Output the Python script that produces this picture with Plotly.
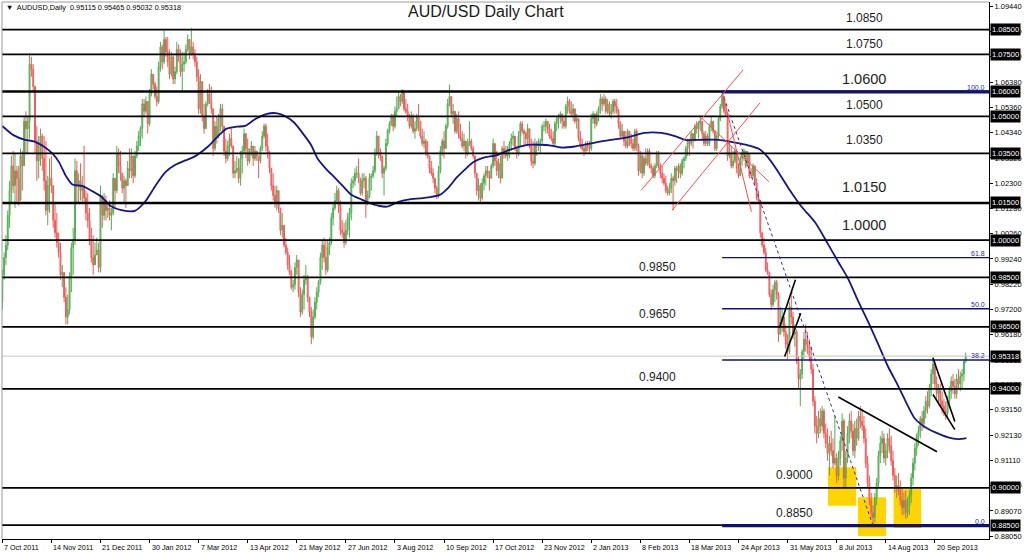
import plotly.graph_objects as go

# ---------------- data ----------------
first_open = 0.975

high = [
 0.988, 0.995, 1.002, 1.012, 1.024, 1.034, 1.036, 1.035, 1.030, 1.030,
 1.037, 1.036, 1.050, 1.052, 1.050, 1.0755, 1.074, 1.071, 1.062, 1.046,
 1.042, 1.045, 1.043, 1.042, 1.040, 1.026, 1.033, 1.034, 1.022, 1.015,
 1.011, 1.003, 0.999, 0.990, 0.986, 0.981, 0.978, 0.987, 0.999, 1.005,
 1.033, 1.032, 1.027, 1.031, 1.026, 1.038, 1.020, 1.019, 1.013, 1.005,
 1.002, 0.999, 1.001, 0.999, 1.022, 1.018, 1.019, 1.018, 1.015, 1.016,
 1.013, 1.027, 1.025, 1.038, 1.037, 1.036, 1.027, 1.026, 1.025, 1.032,
 1.037, 1.037, 1.034, 1.036, 1.040, 1.044, 1.046, 1.057, 1.057, 1.058,
 1.056, 1.061, 1.069, 1.067, 1.064, 1.062, 1.072, 1.080, 1.079, 1.0846,
 1.082, 1.082, 1.077, 1.076, 1.075, 1.070, 1.080, 1.079, 1.077, 1.076,
 1.076, 1.079, 1.083, 1.081, 1.0856, 1.080, 1.077, 1.074,
 1.069, 1.067, 1.064, 1.055, 1.056, 1.061, 1.063, 1.062, 1.053, 1.048,
 1.050, 1.051, 1.055, 1.055, 1.046, 1.041, 1.040, 1.043, 1.045, 1.038,
 1.032, 1.034, 1.033, 1.036, 1.038, 1.045, 1.043, 1.041, 1.037, 1.040,
 1.038, 1.038, 1.036, 1.034, 1.038, 1.044, 1.047, 1.047, 1.043, 1.036,
 1.029, 1.027, 1.022, 1.022, 1.020, 1.013, 1.011, 1.006, 1.001, 0.997,
 0.994, 0.988, 0.984, 0.991, 0.994, 0.992, 0.981, 0.980, 0.986, 0.990,
 0.986, 0.977, 0.973, 0.972, 0.977, 0.981, 0.984, 0.995, 1.000, 1.001,
 1.000, 1.000, 1.001, 1.011, 1.015, 1.019, 1.022, 1.021, 1.016, 1.008,
 1.007, 1.008, 1.011, 1.013, 1.025, 1.026, 1.029, 1.030, 1.033, 1.025,
 1.027, 1.027, 1.026, 1.020, 1.027, 1.027, 1.030, 1.037, 1.044, 1.042,
 1.037, 1.034, 1.030, 1.041, 1.045, 1.048, 1.051, 1.051, 1.054, 1.058,
 1.060, 1.059, 1.061, 1.060, 1.057, 1.055, 1.051, 1.052, 1.051, 1.048,
 1.051, 1.055, 1.048, 1.045, 1.044, 1.041, 1.040, 1.034, 1.032, 1.029,
 1.025, 1.022, 1.030, 1.038, 1.041, 1.044, 1.047, 1.057, 1.0628, 1.058,
 1.055, 1.052, 1.051, 1.052, 1.047, 1.044, 1.043, 1.040, 1.041, 1.048,
 1.041, 1.038, 1.034, 1.027, 1.025, 1.023, 1.025, 1.027, 1.030, 1.030,
 1.028, 1.031, 1.041, 1.039, 1.036, 1.033, 1.034, 1.038, 1.040, 1.038,
 1.038, 1.040, 1.043, 1.044, 1.042, 1.038, 1.044, 1.048, 1.048, 1.045,
 1.044, 1.047, 1.045, 1.041, 1.040, 1.041, 1.040, 1.041, 1.041, 1.047,
 1.048, 1.049, 1.048, 1.047, 1.045, 1.044, 1.048, 1.050, 1.051, 1.052,
 1.051, 1.050, 1.055, 1.058, 1.057, 1.056, 1.055, 1.053, 1.051, 1.049,
 1.044, 1.041, 1.038, 1.040, 1.040, 1.040,
 1.051, 1.052, 1.051, 1.052, 1.054, 1.059, 1.058, 1.059, 1.058, 1.057,
 1.056, 1.055, 1.057, 1.057, 1.057, 1.053, 1.048, 1.047, 1.044, 1.044,
 1.045, 1.044, 1.043, 1.041, 1.045, 1.045, 1.039, 1.036, 1.035, 1.034,
 1.037, 1.037, 1.037, 1.031, 1.030, 1.031, 1.036, 1.036, 1.031, 1.030,
 1.027, 1.026, 1.022, 1.023, 1.027, 1.026, 1.030, 1.030, 1.031, 1.031,
 1.033, 1.034, 1.038, 1.041, 1.041, 1.044, 1.043, 1.047, 1.048, 1.048,
 1.050, 1.048, 1.044, 1.044, 1.043, 1.047, 1.050, 1.048, 1.044, 1.043,
 1.050, 1.055, 1.0598, 1.058, 1.055, 1.051, 1.040, 1.038, 1.036, 1.037,
 1.036, 1.031, 1.034, 1.036, 1.037, 1.036, 1.036, 1.035, 1.029, 1.031,
 1.030, 1.025, 1.020, 1.016, 1.003, 1.001, 0.997, 0.991, 0.987, 0.980,
 0.982, 0.984, 0.984, 0.979, 0.973, 0.972, 0.969, 0.966,
 0.962, 0.975, 0.979, 0.971, 0.966, 0.964, 0.953, 0.948, 0.956, 0.963,
 0.966, 0.963, 0.960, 0.957, 0.950, 0.937, 0.929, 0.931, 0.932, 0.933,
 0.932, 0.926, 0.924, 0.921, 0.923, 0.920, 0.929, 0.914, 0.915, 0.921,
 0.930, 0.928, 0.915, 0.925, 0.930, 0.931, 0.926, 0.927, 0.928, 0.931,
 0.933, 0.932, 0.929, 0.924, 0.913, 0.905, 0.898, 0.893, 0.898, 0.904,
 0.915, 0.921, 0.923, 0.922, 0.918, 0.922, 0.924, 0.921, 0.915, 0.908,
 0.905, 0.906, 0.903, 0.900, 0.898, 0.899, 0.896, 0.899, 0.906, 0.912,
 0.918, 0.922, 0.925, 0.929, 0.931, 0.933, 0.937, 0.939, 0.942, 0.948,
 0.9528, 0.951, 0.945, 0.942, 0.942, 0.939, 0.936, 0.935, 0.937, 0.941,
 0.945, 0.946, 0.944, 0.946, 0.948, 0.947, 0.948, 0.951, 0.95465,
]

low = [
 0.972, 0.984, 0.990, 0.996, 1.005, 1.015, 1.019, 1.013, 1.015, 1.014,
 1.016, 1.020, 1.030, 1.035, 1.035, 1.041, 1.066, 1.060, 1.035, 1.024,
 1.025, 1.030, 1.028, 1.020, 1.010, 1.006, 1.011, 1.019, 1.005, 1.001,
 0.997, 0.993, 0.984, 0.981, 0.975, 0.966, 0.966, 0.970, 0.979, 0.986,
 0.998, 1.015, 1.015, 1.016, 1.015, 1.015, 1.008, 1.005, 0.998, 0.991,
 0.986, 0.990, 0.994, 0.987, 0.987, 1.005, 1.008, 1.008, 1.009, 1.008,
 1.004, 1.010, 1.013, 1.019, 1.027, 1.024, 1.019, 1.015, 1.013, 1.022,
 1.025, 1.025, 1.023, 1.025, 1.033, 1.036, 1.038, 1.041, 1.050, 1.051,
 1.043, 1.046, 1.058, 1.061, 1.057, 1.054, 1.055, 1.068, 1.069, 1.071,
 1.074, 1.070, 1.065, 1.066, 1.063, 1.063, 1.067, 1.072, 1.066, 1.060,
 1.068, 1.071, 1.076, 1.073, 1.0745, 1.073, 1.070, 1.064,
 1.051, 1.051, 1.048, 1.043, 1.045, 1.054, 1.055, 1.051, 1.034, 1.036,
 1.039, 1.041, 1.044, 1.044, 1.034, 1.031, 1.032, 1.034, 1.037, 1.025,
 1.025, 1.027, 1.023, 1.022, 1.027, 1.035, 1.033, 1.030, 1.031, 1.034,
 1.030, 1.032, 1.032, 1.025, 1.031, 1.036, 1.041, 1.036, 1.033, 1.027,
 1.020, 1.016, 1.013, 1.012, 1.011, 1.002, 1.001, 0.997, 0.994, 0.988,
 0.986, 0.980, 0.979, 0.980, 0.986, 0.977, 0.969, 0.970, 0.972, 0.982,
 0.975, 0.969, 0.958, 0.960, 0.968, 0.972, 0.977, 0.982, 0.988, 0.991,
 0.986, 0.987, 0.994, 0.998, 1.006, 1.012, 1.015, 1.011, 1.002, 1.001,
 0.997, 0.998, 1.002, 1.001, 1.008, 1.021, 1.022, 1.025, 1.023, 1.018,
 1.018, 1.021, 1.009, 1.014, 1.017, 1.020, 1.025, 1.027, 1.034, 1.033,
 1.032, 1.025, 1.018, 1.028, 1.038, 1.043, 1.046, 1.044, 1.045, 1.050,
 1.053, 1.054, 1.055, 1.052, 1.051, 1.048, 1.045, 1.045, 1.043, 1.041,
 1.044, 1.044, 1.041, 1.038, 1.037, 1.034, 1.033, 1.027, 1.026, 1.023,
 1.019, 1.0165, 1.017, 1.027, 1.034, 1.033, 1.037, 1.045, 1.054, 1.050,
 1.047, 1.043, 1.043, 1.041, 1.040, 1.037, 1.036, 1.033, 1.034, 1.038,
 1.036, 1.033, 1.025, 1.018, 1.016, 1.015, 1.016, 1.020, 1.022, 1.025,
 1.020, 1.025, 1.029, 1.030, 1.026, 1.025, 1.023, 1.025, 1.033, 1.033,
 1.032, 1.033, 1.036, 1.038, 1.036, 1.033, 1.034, 1.038, 1.043, 1.038,
 1.038, 1.038, 1.037, 1.030, 1.029, 1.030, 1.034, 1.036, 1.035, 1.039,
 1.044, 1.043, 1.043, 1.041, 1.040, 1.038, 1.038, 1.044, 1.045, 1.047,
 1.045, 1.045, 1.045, 1.051, 1.051, 1.050, 1.048, 1.047, 1.045, 1.040,
 1.037, 1.036, 1.034, 1.035, 1.036, 1.035,
 1.036, 1.047, 1.045, 1.046, 1.048, 1.051, 1.052, 1.054, 1.051, 1.051,
 1.050, 1.049, 1.051, 1.051, 1.051, 1.045, 1.041, 1.041, 1.038, 1.037,
 1.037, 1.038, 1.037, 1.036, 1.036, 1.036, 1.026, 1.027, 1.025, 1.026,
 1.030, 1.030, 1.029, 1.027, 1.025, 1.025, 1.029, 1.029, 1.025, 1.023,
 1.022, 1.019, 1.018, 1.018, 1.019, 1.012, 1.022, 1.023, 1.025, 1.025,
 1.026, 1.029, 1.032, 1.034, 1.034, 1.038, 1.037, 1.040, 1.043, 1.041,
 1.044, 1.041, 1.038, 1.038, 1.038, 1.038, 1.044, 1.043, 1.036, 1.036,
 1.041, 1.048, 1.053, 1.051, 1.050, 1.032, 1.033, 1.029, 1.029, 1.031,
 1.027, 1.025, 1.026, 1.030, 1.032, 1.029, 1.030, 1.025, 1.025, 1.025,
 1.022, 1.016, 1.015, 1.001, 0.997, 0.994, 0.987, 0.986, 0.977, 0.972,
 0.973, 0.975, 0.976, 0.959, 0.962, 0.963, 0.961, 0.956,
 0.952, 0.954, 0.966, 0.960, 0.957, 0.950, 0.940, 0.933, 0.944, 0.952,
 0.955, 0.954, 0.951, 0.946, 0.933, 0.922, 0.918, 0.920, 0.922, 0.923,
 0.920, 0.916, 0.911, 0.905, 0.913, 0.908, 0.909, 0.902, 0.903, 0.909,
 0.915, 0.900, 0.900, 0.910, 0.918, 0.920, 0.913, 0.912, 0.917, 0.919,
 0.924, 0.923, 0.918, 0.908, 0.900, 0.893, 0.888, 0.8848, 0.886, 0.893,
 0.900, 0.910, 0.914, 0.910, 0.909, 0.912, 0.914, 0.909, 0.903, 0.898,
 0.896, 0.897, 0.893, 0.889, 0.889, 0.8875, 0.888, 0.889, 0.894, 0.901,
 0.907, 0.913, 0.917, 0.920, 0.923, 0.924, 0.928, 0.930, 0.932, 0.937,
 0.942, 0.940, 0.936, 0.934, 0.933, 0.930, 0.929, 0.9275, 0.928, 0.932,
 0.936, 0.938, 0.936, 0.936, 0.940, 0.939, 0.940, 0.943, 0.95032,
]

close = [
 0.986, 0.993, 0.998, 1.010, 1.020, 1.030, 1.022, 1.028, 1.025, 1.016,
 1.034, 1.030, 1.048, 1.045, 1.048, 1.071, 1.069, 1.062, 1.040, 1.032,
 1.038, 1.042, 1.033, 1.024, 1.012, 1.022, 1.025, 1.022, 1.008, 1.003,
 0.999, 0.995, 0.986, 0.987, 0.977, 0.969, 0.972, 0.985, 0.997, 1.000,
 1.028, 1.022, 1.024, 1.020, 1.022, 1.017, 1.011, 1.008, 1.000, 0.993,
 0.990, 0.994, 0.996, 0.989, 1.018, 1.010, 1.016, 1.012, 1.013, 1.010,
 1.011, 1.025, 1.020, 1.035, 1.030, 1.027, 1.021, 1.024, 1.022, 1.029,
 1.028, 1.034, 1.026, 1.034, 1.038, 1.042, 1.045, 1.055, 1.052, 1.056,
 1.047, 1.059, 1.067, 1.063, 1.058, 1.056, 1.070, 1.078, 1.072, 1.081,
 1.076, 1.072, 1.067, 1.074, 1.065, 1.068, 1.077, 1.074, 1.068, 1.071,
 1.072, 1.077, 1.081, 1.075, 1.078, 1.075, 1.072, 1.066,
 1.053, 1.064, 1.050, 1.045, 1.055, 1.059, 1.056, 1.053, 1.037, 1.046,
 1.042, 1.049, 1.053, 1.046, 1.036, 1.033, 1.038, 1.041, 1.038, 1.027,
 1.028, 1.029, 1.025, 1.033, 1.036, 1.043, 1.037, 1.032, 1.035, 1.038,
 1.033, 1.036, 1.034, 1.032, 1.037, 1.042, 1.046, 1.038, 1.035, 1.029,
 1.022, 1.018, 1.015, 1.020, 1.013, 1.004, 1.006, 0.998, 0.995, 0.990,
 0.987, 0.981, 0.982, 0.989, 0.992, 0.979, 0.971, 0.978, 0.984, 0.985,
 0.977, 0.971, 0.961, 0.969, 0.975, 0.979, 0.983, 0.993, 0.998, 0.993,
 0.988, 0.997, 0.999, 1.009, 1.013, 1.016, 1.020, 1.014, 1.004, 1.003,
 0.999, 1.004, 1.009, 1.011, 1.023, 1.024, 1.027, 1.027, 1.025, 1.019,
 1.024, 1.025, 1.016, 1.018, 1.025, 1.026, 1.028, 1.035, 1.042, 1.036,
 1.034, 1.027, 1.029, 1.039, 1.044, 1.047, 1.050, 1.046, 1.052, 1.053,
 1.058, 1.056, 1.060, 1.053, 1.052, 1.050, 1.046, 1.050, 1.044, 1.045,
 1.050, 1.048, 1.042, 1.039, 1.040, 1.035, 1.034, 1.029, 1.027, 1.025,
 1.021, 1.018, 1.028, 1.036, 1.040, 1.037, 1.046, 1.055, 1.058, 1.051,
 1.052, 1.044, 1.049, 1.043, 1.041, 1.038, 1.040, 1.035, 1.039, 1.040,
 1.037, 1.034, 1.027, 1.020, 1.022, 1.017, 1.023, 1.026, 1.028, 1.027,
 1.025, 1.030, 1.039, 1.032, 1.028, 1.031, 1.025, 1.037, 1.036, 1.034,
 1.037, 1.039, 1.041, 1.042, 1.037, 1.035, 1.042, 1.047, 1.044, 1.043,
 1.041, 1.045, 1.038, 1.032, 1.031, 1.039, 1.038, 1.040, 1.040, 1.046,
 1.046, 1.048, 1.045, 1.042, 1.041, 1.039, 1.047, 1.049, 1.050, 1.051,
 1.048, 1.046, 1.054, 1.056, 1.052, 1.051, 1.053, 1.048, 1.049, 1.041,
 1.038, 1.037, 1.036, 1.039, 1.038, 1.037,
 1.049, 1.051, 1.047, 1.051, 1.053, 1.057, 1.055, 1.057, 1.052, 1.055,
 1.051, 1.052, 1.056, 1.054, 1.052, 1.047, 1.042, 1.044, 1.040, 1.038,
 1.044, 1.041, 1.039, 1.037, 1.044, 1.038, 1.028, 1.034, 1.027, 1.033,
 1.031, 1.036, 1.030, 1.029, 1.026, 1.030, 1.035, 1.030, 1.027, 1.025,
 1.023, 1.020, 1.019, 1.021, 1.025, 1.024, 1.029, 1.028, 1.030, 1.027,
 1.032, 1.033, 1.037, 1.040, 1.039, 1.043, 1.040, 1.046, 1.045, 1.047,
 1.048, 1.043, 1.039, 1.042, 1.039, 1.046, 1.048, 1.044, 1.037, 1.042,
 1.049, 1.054, 1.058, 1.052, 1.051, 1.034, 1.035, 1.030, 1.032, 1.036,
 1.029, 1.026, 1.033, 1.035, 1.036, 1.030, 1.035, 1.026, 1.026, 1.030,
 1.023, 1.017, 1.016, 1.003, 0.998, 0.995, 0.988, 0.987, 0.978, 0.974,
 0.980, 0.983, 0.978, 0.962, 0.967, 0.969, 0.963, 0.958,
 0.955, 0.973, 0.969, 0.962, 0.963, 0.951, 0.944, 0.946, 0.955, 0.960,
 0.958, 0.957, 0.953, 0.948, 0.935, 0.925, 0.922, 0.928, 0.925, 0.931,
 0.922, 0.918, 0.914, 0.918, 0.915, 0.910, 0.912, 0.905, 0.912, 0.919,
 0.927, 0.904, 0.912, 0.922, 0.927, 0.923, 0.915, 0.924, 0.920, 0.929,
 0.927, 0.925, 0.920, 0.910, 0.902, 0.895, 0.890, 0.888, 0.896, 0.902,
 0.913, 0.918, 0.920, 0.912, 0.915, 0.920, 0.917, 0.911, 0.905, 0.900,
 0.901, 0.899, 0.895, 0.892, 0.895, 0.890, 0.893, 0.897, 0.904, 0.910,
 0.916, 0.921, 0.923, 0.928, 0.926, 0.931, 0.935, 0.933, 0.940, 0.946,
 0.950, 0.942, 0.938, 0.940, 0.935, 0.933, 0.931, 0.930, 0.935, 0.939,
 0.943, 0.941, 0.938, 0.944, 0.942, 0.945, 0.946, 0.95115, 0.95318,
]

# bottom date labels (one every 27 bars)
date_labels = ["7 Oct 2011", "14 Nov 2011", "21 Dec 2011", "30 Jan 2012", "7 Mar 2012",
               "13 Apr 2012", "21 May 2012", "27 Jun 2012", "3 Aug 2012", "10 Sep 2012",
               "17 Oct 2012", "23 Nov 2012", "2 Jan 2013", "8 Feb 2013", "18 Mar 2013",
               "24 Apr 2013", "31 May 2013", "8 Jul 2013", "14 Aug 2013", "20 Sep 2013"]
label_step = 27

# moving average (bar index, value)
ma_idx = [0, 6.1, 12.6, 17.3, 22.8, 27.5, 31.2, 34.9, 38.6, 44.2, 49.7, 54.4, 59.9, 65.5, 72.9,
          78.5, 84.1, 89.6, 95.2, 100.7, 105.4, 113.2, 118.7, 123.4, 129.0, 133.6, 139.2, 145.6,
          151.3, 155.9, 160.5, 165.1, 169.8, 173.5, 178.1, 182.8, 187.4, 192.0, 196.7, 202.2,
          206.9, 211.5, 218.4, 224.0, 231.4, 240.7, 245.3, 250.0, 255.5, 259.2, 264.8, 272.2,
          277.7, 283.3, 288.9, 296.3, 301.9, 307.4, 314.9, 319.9, 327.3, 334.7, 344.0, 353.3,
          362.6, 370.0, 375.6, 383.0, 394.1, 401.5, 410.8, 416.4, 421.0, 425.7, 432.4, 439.7,
          447.1, 454.4, 459.9, 465.4, 470.9, 476.4, 481.9, 487.3, 492.8, 498.3, 502.0, 507.5,
          513.0, 520.3, 525.8, 530.4]
ma_val = [1.0461, 1.0424, 1.0405, 1.0399, 1.0378, 1.0350, 1.0315, 1.0260, 1.0225, 1.0218, 1.0197,
          1.0176, 1.0137, 1.0121, 1.0118, 1.0155, 1.0218, 1.0274, 1.0304, 1.0322, 1.0336,
          1.0378, 1.0420, 1.0450, 1.0458, 1.0461, 1.0489, 1.0510, 1.0512, 1.0499, 1.0475,
          1.0433, 1.0385, 1.0329, 1.0288, 1.0253, 1.0218, 1.0183, 1.0167, 1.0149, 1.0139, 1.0135,
          1.0156, 1.0165, 1.0170, 1.0183, 1.0211, 1.0253, 1.0292, 1.0315, 1.0333, 1.0343,
          1.0361, 1.0374, 1.0385, 1.0385, 1.0382, 1.0374, 1.0378,
          1.0385, 1.0396, 1.0405, 1.0415, 1.0433, 1.0433, 1.0420, 1.0405, 1.0405, 1.0405,
          1.0396, 1.0382, 1.0368, 1.0336, 1.0288,
          1.0211, 1.0135, 1.0072, 0.9982, 0.9912, 0.9843, 0.9753, 0.9669, 0.9579, 0.9489,
          0.9412, 0.9329, 0.9280, 0.9246, 0.9225, 0.9204, 0.9197, 0.9201]

levels = [1.0850, 1.0750, 1.0600, 1.0500, 1.0350, 1.0150, 1.0000, 0.9850, 0.9650, 0.9400, 0.9000, 0.8850]
last_price = 0.95318
header_ohlc = ["0.95115", "0.95465", "0.95032", "0.95318"]
axis_ticks = [1.0944, 1.0842, 1.0740, 1.0638, 1.0536, 1.0434, 1.0332, 1.0230, 1.0128, 1.0026,
              0.9924, 0.9822, 0.9720, 0.9618, 0.9516, 0.9417, 0.9315, 0.9213, 0.9111, 0.9009,
              0.8907, 0.8805]

fib_hi_idx = 396
fib_lo_idx = 479
fib_ratios = [1.0, 0.618, 0.5, 0.382, 0.0]

# hand-drawn analysis objects (bar index, price)
red_lines = [((351.4, 1.0201), (407.5, 1.0687)), ((368.5, 1.0121), (416.9, 1.0555)),
             ((396.5, 1.0586), (412.1, 1.0115)), ((384.8, 1.0492), (421.9, 1.0235))]
black_lines = [((427.5, 0.9645), (436.3, 0.9840)), ((430.4, 0.9530), (439.2, 0.9705)),
               ((459.9, 0.9367), (514.2, 0.9146)), ((512.0, 0.9524), (524.0, 0.9268)),
               ((512.0, 0.9377), (524.0, 0.9235))]
support_boxes = [((454.2, 469.8), (0.8928, 0.9083)), ((470.7, 486.2), (0.8806, 0.8962)),
                 ((490.3, 505.5), (0.8838, 0.8995))]

# ---------------- build ----------------
N = min(len(high), len(low), len(close))
close = close[:N]
opens = [first_open] + close[:-1]
highs = [max(h, o, c) for h, o, c in zip(high[:N], opens, close)]
lows = [min(l, o, c) for l, o, c in zip(low[:N], opens, close)]
xs = list(range(N))

X_RANGE = [-0.165, 542.8]
Y_RANGE = [0.87937, 1.09613]
FONT = "Liberation Sans, Arial, sans-serif"

fig = go.Figure()
fig.add_trace(go.Candlestick(
    x=xs, open=opens, high=highs, low=lows, close=close,
    increasing=dict(line=dict(color="#4FAE4F", width=1), fillcolor="#A5D9A5"),
    decreasing=dict(line=dict(color="#F05858", width=1), fillcolor="#F6A6A6"),
    whiskerwidth=0, showlegend=False, hoverinfo="skip"))
fig.add_trace(go.Scatter(x=ma_idx, y=ma_val, mode="lines",
                         line=dict(color="#15158A", width=1.8, shape="spline", smoothing=0.7),
                         showlegend=False, hoverinfo="skip"))

shapes = []
for (x0, x1), (y0, y1) in support_boxes:
    shapes.append(dict(type="rect", xref="x", yref="y", x0=x0, x1=x1, y0=y0, y1=y1,
                       fillcolor="#FFD400", line=dict(width=0), layer="below"))
for lv in levels:
    w = 2.6 if lv in (1.0600, 1.0150) else 1.8
    shapes.append(dict(type="line", xref="paper", yref="y", x0=0, x1=1, y0=lv, y1=lv,
                       line=dict(color="#000000", width=w)))
shapes.append(dict(type="line", xref="paper", yref="y", x0=0, x1=1, y0=last_price, y1=last_price,
                   line=dict(color="#C4C4C4", width=1)))

fib_hi = highs[fib_hi_idx]
fib_lo = lows[fib_lo_idx]
fib_vals = [fib_lo + r * (fib_hi - fib_lo) for r in fib_ratios]
for r, fv in zip(fib_ratios, fib_vals):
    w = 3.2 if r in (1.0, 0.0) else 1.4
    shapes.append(dict(type="line", xref="x", yref="y", x0=fib_hi_idx, x1=X_RANGE[1], y0=fv, y1=fv,
                       line=dict(color="#101078", width=w)))
shapes.append(dict(type="line", xref="x", yref="y", x0=fib_hi_idx, y0=fib_hi, x1=fib_lo_idx, y1=fib_lo,
                   line=dict(color="#2A2AA0", width=1, dash="dot")))
for (x0, y0), (x1, y1) in red_lines:
    shapes.append(dict(type="line", xref="x", yref="y", x0=x0, y0=y0, x1=x1, y1=y1,
                       line=dict(color="#FF4A4A", width=1)))
for (x0, y0), (x1, y1) in black_lines:
    shapes.append(dict(type="line", xref="x", yref="y", x0=x0, y0=y0, x1=x1, y1=y1,
                       line=dict(color="#000000", width=1.6)))
# frame (left / top)
shapes.append(dict(type="line", xref="paper", yref="paper", x0=0, x1=0, y0=0, y1=1,
                   line=dict(color="#9A9A9A", width=1)))
shapes.append(dict(type="line", xref="paper", yref="paper", x0=0, x1=1, y0=1, y1=1,
                   line=dict(color="#9A9A9A", width=1)))

ann = []
# in-chart level labels: level -> (x pixel centre, y shift above line, font size)
label_style = {
    1.0850: (866, 12, 12), 1.0750: (866, 10, 12), 1.0600: (866, 13, 14.5),
    1.0500: (866, 11, 12), 1.0350: (866, 13, 12), 1.0150: (866, 16, 14.5),
    1.0000: (866, 15, 14.5), 0.9850: (659, 10, 12), 0.9650: (659, 13, 12),
    0.9400: (659, 12, 12), 0.9000: (796, 13, 12), 0.8850: (796, 12.5, 12),
}
PLOT_L, PLOT_W = 2, 989
for lv in levels:
    px, dy, sz = label_style[lv]
    ann.append(dict(xref="paper", yref="y", x=(px - PLOT_L) / PLOT_W, y=lv, yshift=dy,
                    text=f"{lv:.4f}", showarrow=False, xanchor="center", yanchor="middle",
                    font=dict(family=FONT, size=sz, color="#1E1E1E")))
# right axis boxes
for lv in levels + [last_price]:
    txt = f"{lv:.5f}"
    ann.append(dict(xref="paper", yref="y", x=1, y=lv, xanchor="left", yanchor="middle",
                    xshift=1, text=txt, showarrow=False, bgcolor="#000000", borderpad=1,
                    font=dict(family=FONT, size=7.5, color="#FFFFFF")))
# fib labels
for r, fv in zip(fib_ratios, fib_vals):
    ann.append(dict(xref="paper", yref="y", x=1, y=fv, xanchor="right", yanchor="bottom",
                    xshift=-2, yshift=-1, text=f"{r * 100:.1f}", showarrow=False,
                    font=dict(family=FONT, size=7, color="#2A2AA8")))
# date labels
for i, lab in enumerate(date_labels):
    ann.append(dict(xref="x", yref="paper", x=i * label_step, y=0, xanchor="left", yanchor="top",
                    yshift=-2, xshift=0, text=lab, showarrow=False,
                    font=dict(family=FONT, size=7.2, color="#000000")))
# title and header
ann.append(dict(xref="paper", yref="paper", x=(487 - PLOT_L) / PLOT_W, y=1 - 10 / 537,
                xanchor="center", yanchor="middle", text="AUD/USD Daily Chart", showarrow=False,
                font=dict(family=FONT, size=16, color="#1A1A1A")))
ann.append(dict(xref="paper", yref="paper", x=0.002, y=1 - 5.5 / 537, xanchor="left", yanchor="middle",
                text="▼  AUDUSD,Daily  " + " ".join(header_ohlc), showarrow=False,
                font=dict(family=FONT, size=7.3, color="#000000")))

fig.update_layout(
    width=1024, height=553,
    margin=dict(l=2, r=33, t=2, b=14),
    paper_bgcolor="#FFFFFF", plot_bgcolor="#FFFFFF",
    shapes=shapes, annotations=ann, showlegend=False,
    xaxis=dict(range=X_RANGE, rangeslider=dict(visible=False), showgrid=False, zeroline=False,
               showline=True, linecolor="#000000", linewidth=1,
               tickmode="array", tickvals=[i * label_step for i in range(len(date_labels))],
               ticks="outside", ticklen=3, tickcolor="#000000", showticklabels=False),
    yaxis=dict(range=Y_RANGE, side="right", showgrid=False, zeroline=False,
               showline=True, linecolor="#000000", linewidth=1,
               tickmode="array", tickvals=axis_ticks, ticktext=[f"{t:.5f}" for t in axis_ticks],
               ticks="outside", ticklen=3, tickcolor="#000000",
               tickfont=dict(family=FONT, size=7.5, color="#000000")),
)

fig.write_html("out.html", config={"displayModeBar": False},
               post_script="document.body.style.margin='0px';document.body.style.padding='0px';"
                           "document.documentElement.style.overflow='hidden';")
